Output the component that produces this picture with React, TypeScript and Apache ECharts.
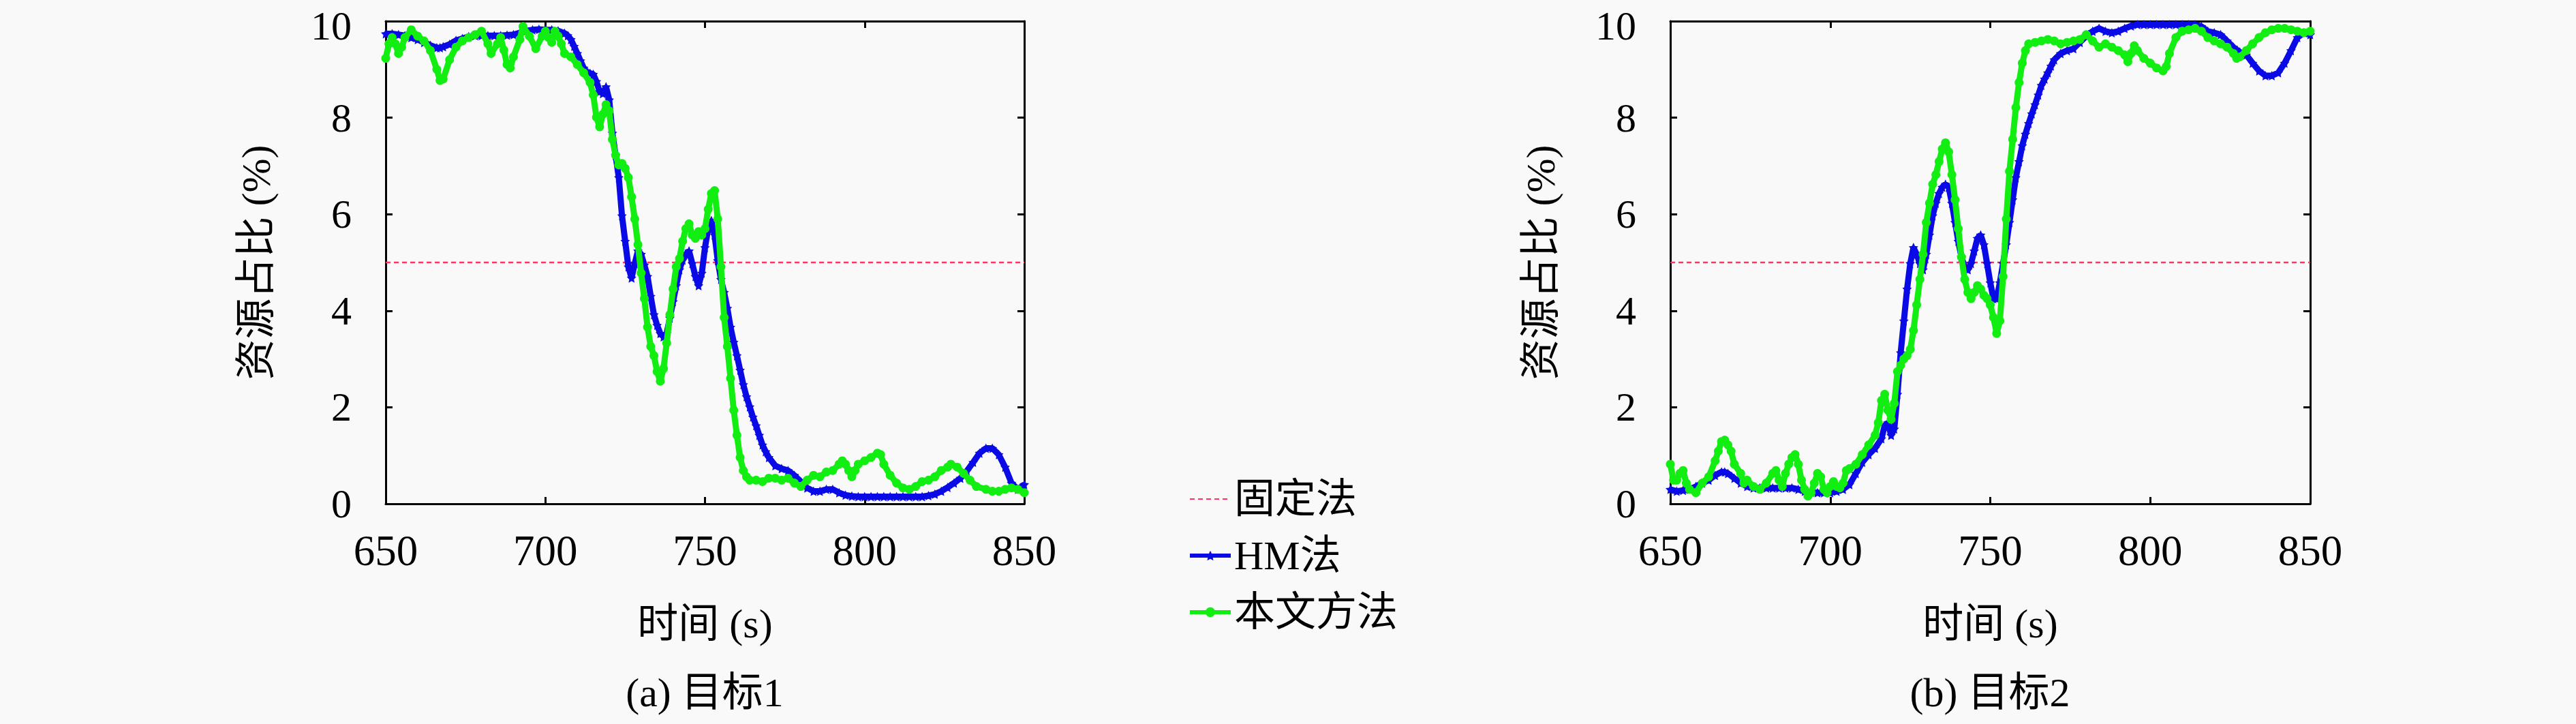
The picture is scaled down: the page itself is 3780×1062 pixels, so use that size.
import React, { useEffect, useRef } from "react";
import * as echarts from "echarts";

// ---------- data ----------
const xTicks = { min: 650, max: 850, interval: 50 };
const yTicks = { min: 0, max: 10, interval: 2 };
const seriesNames = ["固定法", "HM法", "本文方法"];
const panelTitles = ["(a) 目标1", "(b) 目标2"];
const fixedLevel = [[650, 5], [850, 5]];

// 目标1, HM法
const hm1: number[][] = [
  [650, 9.74], [652, 9.74], [654, 9.72], [656, 9.7], [658, 9.66], [660, 9.62], [662, 9.56], [664, 9.5],
  [666, 9.45], [667, 9.45], [668, 9.47], [670, 9.52], [672, 9.6], [674, 9.64], [676, 9.68], [678, 9.7],
  [680, 9.7], [682, 9.7], [684, 9.7], [686, 9.7], [688, 9.71], [690, 9.72], [692, 9.76], [694, 9.8],
  [696, 9.82], [698, 9.83], [700, 9.82], [702, 9.82], [704, 9.8], [706, 9.75], [707, 9.7], [708, 9.62],
  [709, 9.48], [710, 9.33], [711, 9.18], [712, 9.03], [713, 8.95], [714, 8.92], [715, 8.9], [716, 8.75],
  [717, 8.54], [718, 8.5], [719, 8.64], [720, 8.37], [721, 7.68], [722, 7.22], [723, 6.76], [724, 5.97],
  [725, 5.44], [726, 4.91], [727, 4.68], [728, 4.98], [729, 5.24], [730, 5.17], [731, 4.95], [732, 4.71],
  [733, 4.3], [734, 3.92], [735, 3.7], [736, 3.53], [737, 3.46], [738, 3.53], [739, 3.85], [740, 4.19],
  [741, 4.52], [742, 4.85], [743, 5.05], [744, 5.17], [745, 5.24], [746, 4.98], [747, 4.71], [748, 4.52],
  [749, 4.78], [750, 5.31], [751, 5.7], [752, 5.87], [753, 5.57], [754, 5.04], [755, 4.65], [756, 4.38],
  [757, 4.05], [758, 3.66], [759, 3.35], [760, 3.07], [761, 2.77], [762, 2.47], [763, 2.22], [764, 2.01],
  [765, 1.8], [766, 1.62], [767, 1.42], [768, 1.22], [769, 1.08], [770, 0.96], [772, 0.79], [774, 0.73],
  [776, 0.69], [778, 0.59], [780, 0.46], [782, 0.33], [784, 0.26], [786, 0.26], [788, 0.3], [790, 0.3],
  [792, 0.23], [794, 0.18], [796, 0.16], [798, 0.15], [800, 0.15], [802, 0.15], [804, 0.15], [806, 0.15],
  [808, 0.15], [810, 0.15], [812, 0.15], [814, 0.15], [816, 0.15], [818, 0.15], [820, 0.17], [822, 0.2],
  [824, 0.26], [826, 0.34], [828, 0.43], [830, 0.53], [832, 0.68], [834, 0.86], [836, 1.05], [838, 1.15],
  [840, 1.15], [842, 1.02], [844, 0.76], [846, 0.43], [848, 0.3], [850, 0.4],
];

// 目标1, 本文方法
const our1: number[][] = [
  [650, 9.23], [651, 9.53], [652, 9.66], [653, 9.53], [654, 9.33], [655, 9.46], [656, 9.66], [658, 9.82],
  [660, 9.69], [662, 9.59], [664, 9.39], [666, 9.0], [667, 8.77], [668, 8.8], [670, 9.2], [672, 9.46],
  [674, 9.59], [676, 9.66], [678, 9.72], [680, 9.79], [682, 9.53], [683, 9.33], [685, 9.53], [686, 9.66],
  [687, 9.4], [688, 9.1], [689, 9.03], [690, 9.26], [692, 9.62], [693, 9.89], [695, 9.69], [697, 9.43],
  [699, 9.69], [700, 9.79], [701, 9.66], [702, 9.56], [703, 9.79], [704, 9.69], [705, 9.53], [706, 9.33],
  [708, 9.26], [710, 9.1], [712, 8.93], [714, 8.73], [715, 8.47], [716, 8.01], [717, 7.81], [718, 8.07],
  [719, 8.27], [720, 8.14], [721, 7.55], [722, 7.22], [723, 7.02], [724, 7.05], [725, 6.95], [726, 6.76],
  [727, 6.36], [728, 5.9], [729, 5.37], [730, 4.78], [731, 4.25], [732, 3.66], [733, 3.26], [734, 3.07],
  [735, 2.74], [736, 2.54], [737, 2.8], [738, 3.33], [739, 3.92], [740, 4.45], [741, 4.91], [742, 5.08],
  [743, 5.44], [744, 5.7], [745, 5.8], [746, 5.57], [747, 5.5], [748, 5.64], [749, 5.57], [750, 5.7],
  [751, 6.1], [752, 6.43], [753, 6.49], [754, 5.9], [755, 4.91], [756, 3.86], [757, 3.26], [758, 2.6],
  [759, 1.94], [760, 1.42], [761, 0.96], [762, 0.69], [763, 0.56], [764, 0.49], [766, 0.49], [768, 0.46],
  [770, 0.53], [772, 0.53], [774, 0.49], [776, 0.53], [778, 0.43], [780, 0.36], [782, 0.49], [784, 0.59],
  [786, 0.56], [788, 0.66], [790, 0.69], [792, 0.82], [793, 0.89], [794, 0.82], [795, 0.69], [796, 0.56],
  [797, 0.69], [798, 0.82], [800, 0.89], [802, 0.96], [804, 1.05], [805, 1.02], [806, 0.82], [808, 0.59],
  [810, 0.43], [812, 0.33], [814, 0.3], [816, 0.36], [818, 0.46], [820, 0.49], [822, 0.56], [824, 0.69],
  [826, 0.76], [827, 0.82], [829, 0.76], [831, 0.63], [833, 0.49], [835, 0.36], [838, 0.3], [840, 0.26],
  [842, 0.26], [844, 0.3], [846, 0.33], [848, 0.3], [850, 0.23],
];

// 目标2, HM法
const hm2: number[][] = [
  [650, 0.3], [652, 0.26], [654, 0.28], [656, 0.3], [658, 0.36], [660, 0.43], [662, 0.49], [664, 0.59],
  [666, 0.66], [667, 0.66], [668, 0.63], [670, 0.53], [672, 0.43], [674, 0.36], [676, 0.33], [678, 0.33],
  [680, 0.33], [682, 0.33], [684, 0.33], [686, 0.33], [688, 0.33], [690, 0.3], [692, 0.26], [694, 0.24],
  [696, 0.23], [698, 0.23], [700, 0.23], [702, 0.26], [704, 0.3], [706, 0.4], [708, 0.63], [710, 0.86],
  [712, 1.02], [714, 1.15], [716, 1.35], [717, 1.62], [718, 1.68], [719, 1.42], [720, 1.55], [721, 2.27],
  [722, 3.13], [723, 3.79], [724, 4.45], [725, 4.98], [726, 5.31], [727, 5.17], [728, 4.98], [729, 4.85],
  [730, 5.17], [731, 5.57], [732, 5.97], [733, 6.23], [734, 6.43], [735, 6.56], [736, 6.62], [737, 6.56],
  [738, 6.23], [739, 5.83], [740, 5.44], [741, 5.11], [742, 4.91], [743, 4.85], [744, 4.98], [745, 5.24],
  [746, 5.5], [747, 5.57], [748, 5.37], [749, 4.98], [750, 4.58], [751, 4.25], [752, 4.25], [753, 4.58],
  [754, 4.98], [755, 5.37], [756, 5.83], [757, 6.3], [758, 6.76], [759, 7.09], [760, 7.42], [761, 7.66],
  [762, 7.88], [763, 8.08], [764, 8.27], [765, 8.47], [766, 8.67], [767, 8.8], [768, 8.93], [769, 9.07],
  [770, 9.2], [772, 9.33], [774, 9.39], [776, 9.43], [778, 9.56], [780, 9.69], [782, 9.79], [784, 9.85],
  [786, 9.79], [788, 9.76], [790, 9.79], [792, 9.85], [794, 9.9], [796, 9.93], [798, 9.93], [800, 9.93],
  [802, 9.93], [804, 9.93], [806, 9.93], [808, 9.93], [810, 9.93], [812, 9.93], [814, 9.93], [816, 9.89],
  [818, 9.79], [820, 9.76], [822, 9.72], [824, 9.59], [826, 9.46], [828, 9.36], [830, 9.3], [832, 9.13],
  [834, 8.97], [836, 8.87], [838, 8.87], [840, 8.93], [842, 9.13], [844, 9.39], [846, 9.66], [848, 9.76],
  [850, 9.72],
];

// 目标2, 本文方法
const our2: number[][] = [
  [650, 0.82], [651, 0.49], [652, 0.49], [653, 0.63], [654, 0.69], [655, 0.43], [656, 0.3], [658, 0.23],
  [660, 0.43], [662, 0.56], [664, 0.89], [665, 1.09], [666, 1.29], [667, 1.32], [668, 1.22], [669, 1.09],
  [670, 0.82], [672, 0.63], [673, 0.43], [674, 0.49], [676, 0.36], [678, 0.3], [680, 0.43], [682, 0.63],
  [683, 0.69], [684, 0.49], [685, 0.36], [686, 0.63], [687, 0.82], [688, 0.96], [689, 1.02], [690, 0.82],
  [691, 0.49], [692, 0.3], [693, 0.16], [694, 0.23], [695, 0.43], [696, 0.63], [697, 0.56], [698, 0.3],
  [699, 0.23], [700, 0.36], [701, 0.46], [702, 0.36], [703, 0.33], [704, 0.43], [705, 0.69], [706, 0.73],
  [708, 0.82], [710, 1.02], [712, 1.22], [714, 1.42], [715, 1.68], [716, 2.14], [717, 2.27], [718, 1.94],
  [719, 1.75], [720, 2.08], [721, 2.74], [722, 2.87], [723, 3.0], [724, 3.07], [725, 3.2], [726, 3.59],
  [727, 4.12], [728, 4.65], [729, 5.17], [730, 5.83], [731, 6.23], [732, 6.62], [733, 6.82], [734, 7.09],
  [735, 7.35], [736, 7.48], [737, 7.29], [738, 6.82], [739, 6.3], [740, 5.7], [741, 5.11], [742, 4.65],
  [743, 4.38], [744, 4.25], [745, 4.38], [746, 4.52], [747, 4.45], [748, 4.32], [749, 4.25], [750, 4.12],
  [751, 3.86], [752, 3.53], [753, 3.79], [754, 4.71], [755, 5.9], [756, 6.89], [757, 7.55], [758, 8.21],
  [759, 8.73], [760, 9.13], [761, 9.39], [762, 9.53], [764, 9.56], [766, 9.59], [768, 9.62], [770, 9.59],
  [772, 9.53], [774, 9.56], [776, 9.59], [778, 9.62], [780, 9.72], [782, 9.59], [784, 9.46], [786, 9.53],
  [788, 9.46], [790, 9.39], [792, 9.3], [793, 9.16], [794, 9.33], [795, 9.49], [796, 9.39], [798, 9.23],
  [800, 9.13], [802, 9.03], [804, 8.97], [805, 9.06], [806, 9.33], [808, 9.66], [810, 9.79], [812, 9.82],
  [814, 9.85], [816, 9.79], [818, 9.66], [820, 9.59], [822, 9.53], [824, 9.46], [826, 9.33], [827, 9.23],
  [828, 9.26], [830, 9.39], [832, 9.53], [834, 9.66], [836, 9.76], [838, 9.82], [840, 9.85], [842, 9.85],
  [844, 9.82], [846, 9.79], [848, 9.76], [850, 9.79],
];

// ---------- styles ----------
const SERIF = '"Liberation Serif", "Noto Sans CJK SC", serif';
const FIXED_COLOR = "#ff3366";
const HM_COLOR = "#0a0ae6";
const OUR_COLOR = "#12ee12";
const STAR =
  "path://M0,-10L2.9,-4L9.5,-3.1L4.7,1.6L5.9,8.1L0,5L-5.9,8.1L-4.7,1.6L-9.5,-3.1L-2.9,-4Z";

const grids = [
  { left: 566, top: 31, width: 937, height: 708 },
  { left: 2451, top: 31, width: 939, height: 708 },
];
const titleCenters = [1034, 2920];

function buildOption() {
  const axisLine = { show: true, onZero: false, lineStyle: { color: "#000", width: 3 } };
  const axisTick = { show: true, inside: true, length: 10, lineStyle: { color: "#000", width: 3 } };
  const xAxis: any[] = [];
  const yAxis: any[] = [];
  const series: any[] = [];
  const data = [
    [hm1, our1],
    [hm2, our2],
  ];
  grids.forEach((_, i) => {
    xAxis.push({
      type: "value", gridIndex: i, position: "bottom", ...xTicks,
      axisLine, axisTick, splitLine: { show: false },
      axisLabel: { color: "#000", fontSize: 63, fontFamily: SERIF, margin: 37 },
      name: "时间 (s)", nameLocation: "middle", nameGap: 146,
      nameTextStyle: { color: "#000", fontSize: 60, fontFamily: SERIF },
    });
    xAxis.push({
      type: "value", gridIndex: i, position: "top", ...xTicks,
      axisLine, axisTick, splitLine: { show: false }, axisLabel: { show: false },
    });
    yAxis.push({
      type: "value", gridIndex: i, position: "left", ...yTicks,
      axisLine, axisTick, splitLine: { show: false },
      axisLabel: {
        color: "#000", fontSize: 60, fontFamily: SERIF, margin: 50,
        formatter: (v: number) => (v === yTicks.max ? `{top|${v}}` : `${v}`),
        rich: {
          top: { fontSize: 60, fontFamily: SERIF, color: "#000", padding: [14, 0, 0, 0] },
        },
      },
      name: "资源占比 (%)", nameLocation: "middle", nameGap: 160,
      nameTextStyle: { color: "#000", fontSize: 60, fontFamily: SERIF },
    });
    yAxis.push({
      type: "value", gridIndex: i, position: "right", ...yTicks,
      axisLine, axisTick, splitLine: { show: false }, axisLabel: { show: false },
    });
    const xi = i * 2;
    const yi = i * 2;
    series.push({
      name: seriesNames[0], type: "line", xAxisIndex: xi, yAxisIndex: yi,
      data: fixedLevel, symbol: "none", showSymbol: false,
      lineStyle: { color: FIXED_COLOR, width: 2.5, type: [7, 5] },
      itemStyle: { color: FIXED_COLOR }, z: 2,
    });
    series.push({
      name: seriesNames[1], type: "line", xAxisIndex: xi, yAxisIndex: yi,
      data: data[i][0], symbol: STAR, symbolSize: 14, showSymbol: true,
      lineStyle: { color: HM_COLOR, width: 9 }, itemStyle: { color: HM_COLOR },
      z: 3,
    });
    series.push({
      name: seriesNames[2], type: "line", xAxisIndex: xi, yAxisIndex: yi,
      data: data[i][1], symbol: "circle", symbolSize: 13, showSymbol: true,
      lineStyle: { color: OUR_COLOR, width: 9 }, itemStyle: { color: OUR_COLOR },
      z: 4,
    });
  });

  return {
    animation: false,
    backgroundColor: "#f9f9f9",
    grid: grids,
    xAxis,
    yAxis,
    series,
    legend: {
      data: [
        { name: seriesNames[0], itemStyle: { opacity: 0 } },
        { name: seriesNames[1], lineStyle: { width: 6 } },
        { name: seriesNames[2], lineStyle: { width: 6 } },
      ],
      orient: "vertical",
      left: 1738,
      top: 697,
      itemWidth: 60,
      itemHeight: 18,
      itemGap: 23,
      itemTextGap: 26,
      textStyle: { color: "#000", fontSize: 60, fontFamily: SERIF },
    },
    graphic: panelTitles.map((t, i) => ({
      type: "text",
      x: titleCenters[i],
      y: 1016,
      style: {
        text: t,
        fontSize: 60,
        fontFamily: SERIF,
        fill: "#000",
        textAlign: "center",
        textVerticalAlign: "middle",
      },
    })),
  };
}

export default function App() {
  const ref = useRef<HTMLDivElement>(null);
  useEffect(() => {
    document.body.style.margin = "0";
    if (!ref.current) return;
    const chart = echarts.init(ref.current, null, { renderer: "svg" });
    chart.setOption(buildOption() as any);
    return () => chart.dispose();
  }, []);
  return <div ref={ref} style={{ width: 3780, height: 1062 }} />;
}
